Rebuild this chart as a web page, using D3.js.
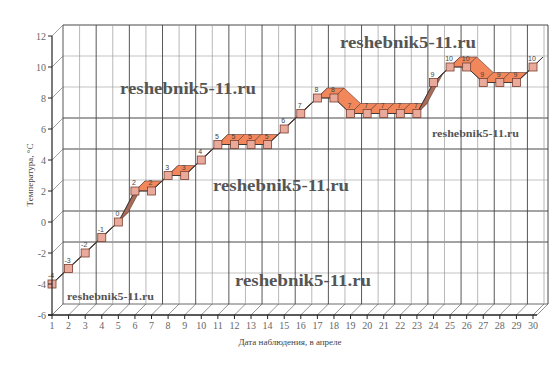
<!DOCTYPE html>
<html>
<head>
<meta charset="utf-8">
<script src="https://cdn.jsdelivr.net/npm/d3@7"></script>
<style>
  body { margin: 0; background: #fff; }
  svg { display: block; }
</style>
</head>
<body>
<div id="chart"></div>
<script>
// data
var days = d3.range(1, 31);
var temps = [-4, -3, -2, -1, 0, 2, 2, 3, 3, 4, 5, 5, 5, 5, 6, 7, 8, 8, 7, 7, 7, 7, 7, 9, 10, 10, 9, 9, 9, 10];
var yTicks = [-6, -4, -2, 0, 2, 4, 6, 8, 10, 12];
var darkLevels = [0, -2, 4, 6];
var yTitle = "Температура, °C";
var xTitle = "Дата наблюдения, в апреле";
var watermark = "reshebnik5-11.ru";

var width = 556, height = 392;
var dx = 11, dy = -11;       // depth of the walls
var rx = 10, ry = -10;       // depth of the ribbon

var svg = d3.select("#chart").append("svg")
    .attr("width", width)
    .attr("height", height);

var x = d3.scalePoint().domain(days).range([52, 533]);
var y = d3.scaleLinear().domain([-6, 12]).range([315, 36]);

var data = days.map(function(d, i) { return {day: d, t: temps[i]}; });

var xL = 48, xR = 537;
var yB = y(-6), yT = y(12);

// floor
var floor = svg.append("g");
floor.append("path")
    .attr("d", "M" + xL + "," + yB + "L" + xR + "," + yB + "L" + (xR + dx) + "," + (yB + dy) + "L" + (xL + dx) + "," + (yB + dy) + "Z")
    .attr("fill", "#fff");
floor.selectAll("line.fd")
    .data(days)
    .enter().append("line")
    .attr("x1", function(d) { return x(d); })
    .attr("y1", yB)
    .attr("x2", function(d) { return x(d) + dx; })
    .attr("y2", yB + dy)
    .attr("stroke", "#666")
    .attr("stroke-width", 0.7);
floor.append("line")
    .attr("x1", xR).attr("y1", yB).attr("x2", xR + dx).attr("y2", yB + dy)
    .attr("stroke", "#666").attr("stroke-width", 0.7);
floor.append("line")
    .attr("x1", x(1) + dx).attr("y1", yB + dy).attr("x2", xR + dx).attr("y2", yB + dy)
    .attr("stroke", "#444").attr("stroke-width", 0.8);

// back wall gridlines
var wall = svg.append("g");
wall.selectAll("line.h")
    .data(yTicks.filter(function(d) { return d > -6; }))
    .enter().append("line")
    .attr("x1", x(1) + dx)
    .attr("x2", xR + dx)
    .attr("y1", function(d) { return y(d) + dy; })
    .attr("y2", function(d) { return y(d) + dy; })
    .attr("stroke", function(d) { return darkLevels.indexOf(d) >= 0 || d === 12 ? "#333" : "#aaa"; })
    .attr("stroke-width", function(d) { return darkLevels.indexOf(d) >= 0 || d === 12 ? 0.9 : 0.7; });
wall.selectAll("line.v")
    .data(days)
    .enter().append("line")
    .attr("x1", function(d) { return x(d) + dx; })
    .attr("x2", function(d) { return x(d) + dx; })
    .attr("y1", yT + dy)
    .attr("y2", yB + dy)
    .attr("stroke", function(d) { return d % 2 === 1 ? "#444" : "#999"; })
    .attr("stroke-width", function(d) { return d % 2 === 1 ? 0.9 : 0.7; });
wall.append("line")
    .attr("x1", xR + dx).attr("x2", xR + dx).attr("y1", yT + dy).attr("y2", yB + dy)
    .attr("stroke", "#333").attr("stroke-width", 0.9);

// side wall diagonals
svg.append("g").selectAll("line")
    .data(yTicks)
    .enter().append("line")
    .attr("x1", x(1))
    .attr("y1", function(d) { return y(d); })
    .attr("x2", x(1) + dx)
    .attr("y2", function(d) { return y(d) + dy; })
    .attr("stroke", "#777")
    .attr("stroke-width", 0.7);

// watermarks
var marks = [
  {x: 340, y: 48, s: 17, w: 136},
  {x: 120, y: 94, s: 17, w: 136},
  {x: 213, y: 191, s: 17, w: 136},
  {x: 235, y: 286, s: 17, w: 136},
  {x: 67, y: 300, s: 11, w: 87},
  {x: 432, y: 137, s: 11, w: 87}
];
svg.append("g").selectAll("text")
    .data(marks)
    .enter().append("text")
    .attr("x", function(d) { return d.x; })
    .attr("y", function(d) { return d.y; })
    .attr("textLength", function(d) { return d.w; })
    .attr("lengthAdjust", "spacingAndGlyphs")
    .style("font-family", "'Liberation Serif', 'DejaVu Serif', serif")
    .style("font-weight", "bold")
    .style("font-size", function(d) { return d.s + "px"; })
    .attr("fill", "#555")
    .text(watermark);

// ribbon
var ribbon = svg.append("g");
for (var i = 0; i < data.length - 1; i++) {
  var x0 = x(data[i].day), y0 = y(data[i].t);
  var x1 = x(data[i + 1].day), y1 = y(data[i + 1].t);
  // steeper than the depth direction: underside is visible
  var under = (y0 - y1) > (x1 - x0) * 1.05;
  var thin = Math.abs((y0 - y1) - (x1 - x0)) < 2;
  ribbon.append("path")
    .attr("d", "M" + x0 + "," + y0 + "L" + x1 + "," + y1 + "L" + (x1 + rx) + "," + (y1 + ry) + "L" + (x0 + rx) + "," + (y0 + ry) + "Z")
    .attr("fill", thin ? "#8a6a60" : (under ? "#a86c58" : "#f2875c"))
    .attr("stroke", "#5a3a30")
    .attr("stroke-width", 0.6)
    .attr("stroke-linejoin", "round");
}
// end caps
[data[0], data[data.length - 1]].forEach(function(d) {
  ribbon.append("line")
    .attr("x1", x(d.day)).attr("y1", y(d.t))
    .attr("x2", x(d.day) + rx).attr("y2", y(d.t) + ry)
    .attr("stroke", "#333").attr("stroke-width", 0.8);
});
ribbon.append("path")
    .datum(data)
    .attr("fill", "none")
    .attr("stroke", "#333")
    .attr("stroke-width", 0.9)
    .attr("d", d3.line()
      .x(function(d) { return x(d.day); })
      .y(function(d) { return y(d.t); }));

// markers
svg.append("g").selectAll("rect")
    .data(data)
    .enter().append("rect")
    .attr("x", function(d) { return x(d.day) - 4; })
    .attr("y", function(d) { return y(d.t) - 4; })
    .attr("width", 8)
    .attr("height", 8)
    .attr("fill", "#e9aa9c")
    .attr("stroke", "#7a4030")
    .attr("stroke-width", 0.8);

// value labels
svg.append("g").selectAll("text")
    .data(data)
    .enter().append("text")
    .attr("x", function(d) { return x(d.day) - 1; })
    .attr("y", function(d) { return y(d.t) - 6; })
    .attr("text-anchor", "middle")
    .style("font-family", "'Liberation Sans', Arial, sans-serif")
    .style("font-size", "7px")
    .attr("fill", "#444")
    .text(function(d) { return d.t; });

// y axis
var yAxis = svg.append("g");
yAxis.append("line")
    .attr("x1", x(1)).attr("x2", x(1)).attr("y1", yT).attr("y2", yB)
    .attr("stroke", "#222").attr("stroke-width", 1.2);
yAxis.selectAll("line.t")
    .data(yTicks)
    .enter().append("line")
    .attr("x1", x(1) - 4).attr("x2", x(1))
    .attr("y1", function(d) { return y(d); })
    .attr("y2", function(d) { return y(d); })
    .attr("stroke", "#222");
yAxis.selectAll("text")
    .data(yTicks)
    .enter().append("text")
    .attr("x", x(1) - 6)
    .attr("y", function(d) { return y(d) + 3.5; })
    .attr("text-anchor", "end")
    .style("font-family", "'Liberation Serif', 'DejaVu Serif', serif")
    .style("font-size", "10px")
    .attr("fill", "#666")
    .text(function(d) { return d; });

// x axis
var xAxis = svg.append("g");
xAxis.append("line")
    .attr("x1", xL).attr("x2", xR).attr("y1", yB).attr("y2", yB)
    .attr("stroke", "#222").attr("stroke-width", 1.5);
xAxis.selectAll("line.t")
    .data(days)
    .enter().append("line")
    .attr("x1", function(d) { return x(d); })
    .attr("x2", function(d) { return x(d); })
    .attr("y1", yB).attr("y2", yB + 4)
    .attr("stroke", "#222");
xAxis.selectAll("text")
    .data(days)
    .enter().append("text")
    .attr("x", function(d) { return x(d); })
    .attr("y", yB + 14)
    .attr("text-anchor", "middle")
    .style("font-family", "'Liberation Serif', 'DejaVu Serif', serif")
    .style("font-size", "10px")
    .attr("fill", "#666")
    .text(function(d) { return d; });

// titles
svg.append("text")
    .attr("transform", "translate(33," + 175 + ") rotate(-90)")
    .attr("text-anchor", "middle")
    .style("font-family", "'Liberation Serif', 'DejaVu Serif', serif")
    .style("font-size", "9px")
    .attr("fill", "#444")
    .text(yTitle);
svg.append("text")
    .attr("x", 290)
    .attr("y", 345)
    .attr("text-anchor", "middle")
    .style("font-family", "'Liberation Serif', 'DejaVu Serif', serif")
    .style("font-size", "9px")
    .attr("fill", "#444")
    .text(xTitle);
</script>
</body>
</html>
